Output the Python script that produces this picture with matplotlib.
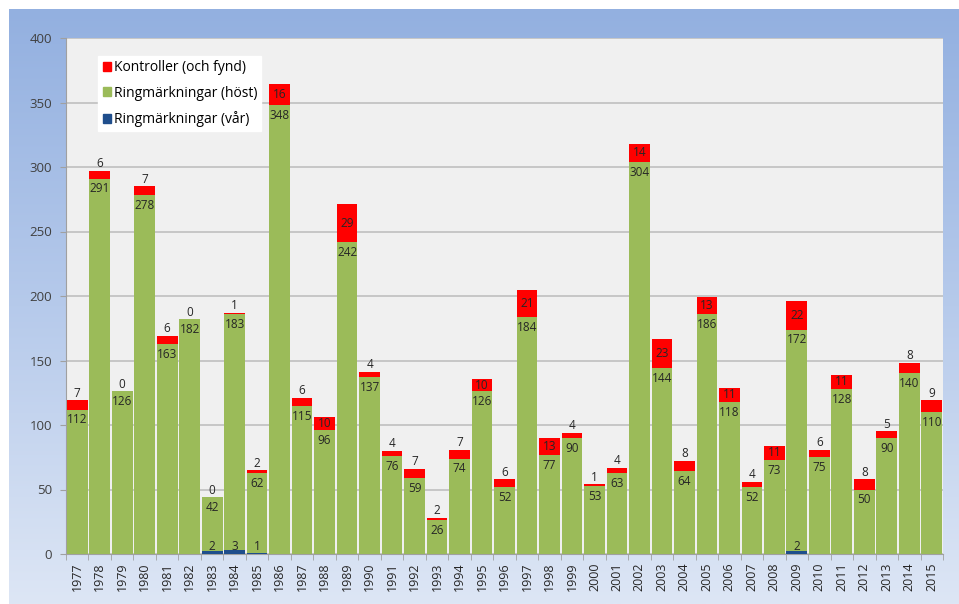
import numpy as np
import matplotlib
matplotlib.use("Agg")
import matplotlib.pyplot as plt
from matplotlib.patches import Patch
from matplotlib.colors import LinearSegmentedColormap

plt.rcParams['font.family'] = ['Open Sans', 'DejaVu Sans']

years = list(range(1977, 2016))
spring = [0, 0, 0, 0, 0, 0, 2, 3, 1, 0,
          0, 0, 0, 0, 0, 0, 0, 0, 0, 0,
          0, 0, 0, 0, 0, 0, 0, 0, 0, 0,
          0, 0, 2, 0, 0, 0, 0, 0, 0]
autumn = [112, 291, 126, 278, 163, 182, 42, 183, 62, 348,
          115, 96, 242, 137, 76, 59, 26, 74, 126, 52,
          184, 77, 90, 53, 63, 304, 144, 64, 186, 118,
          52, 73, 172, 75, 128, 50, 90, 140, 110]
controls = [7, 6, 0, 7, 6, 0, 0, 1, 2, 16,
            6, 10, 29, 4, 4, 7, 2, 7, 10, 6,
            21, 13, 4, 1, 4, 14, 23, 8, 13, 11,
            4, 11, 22, 6, 11, 8, 5, 8, 9]

c_red = '#FF0000'
c_green = '#9BBB59'
c_blue = '#1F4E8C'

fig = plt.figure(figsize=(9.59, 6.04), dpi=100)
fig.patch.set_facecolor('white')

# blue gradient panel behind the chart
bg = fig.add_axes([9 / 959, 0, 1 - 9 / 959, 1 - 9 / 604])
grad = np.linspace(0, 1, 256).reshape(-1, 1)
cmap = LinearSegmentedColormap.from_list('bg', ['#93B0E0', '#B6CAEB', '#DDE6F5'])
bg.imshow(grad, aspect='auto', cmap=cmap, extent=[0, 1, 0, 1], origin='upper')
bg.set_axis_off()

ax = fig.add_axes([66 / 959, 50 / 604, (943 - 66) / 959, (554 - 38) / 604])
ax.set_facecolor('#F0F0F0')

x = np.arange(len(years))
spring = np.array(spring)
autumn = np.array(autumn)
controls = np.array(controls)
w = 0.92

ax.bar(x, spring, w, color=c_blue, edgecolor='none', zorder=3)
ax.bar(x, autumn, w, bottom=spring, color=c_green, edgecolor='none', zorder=3)
ax.bar(x, controls, w, bottom=spring + autumn, color=c_red, edgecolor='none', zorder=3)

lab_kw = dict(ha='center', fontsize=8.5, color='#262626', zorder=5)
for i in range(len(years)):
    top_a = spring[i] + autumn[i]
    ax.text(x[i], top_a - 3, str(autumn[i]), va='top', **lab_kw)
    if controls[i] >= 10:
        ax.text(x[i], top_a + controls[i] / 2, str(controls[i]), va='center', **lab_kw)
    else:
        ax.text(x[i], top_a + controls[i] + 0.5, str(controls[i]), va='bottom', **lab_kw)
    if spring[i] > 0:
        ax.text(x[i], 6, str(spring[i]), va='center', **lab_kw)

ax.set_xlim(-0.5, len(years) - 0.5)
ax.set_ylim(0, 400)
ax.set_yticks(range(0, 401, 50))
ax.yaxis.grid(True, color='#BFBFBF', linewidth=1.2, zorder=0)
ax.set_axisbelow(True)
ax.tick_params(axis='y', length=4, color='#A0A0A0', labelsize=9.5, labelcolor='#404040', pad=6)

ax.set_xticks(x)
ax.set_xticklabels([str(y) for y in years], rotation=90, fontsize=9, color='#262626')
ax.set_xticks(np.arange(-0.5, len(years), 1), minor=True)
ax.tick_params(axis='x', which='major', length=0, pad=6)
ax.tick_params(axis='x', which='minor', length=4, color='#A0A0A0')

for s in ['top', 'right']:
    ax.spines[s].set_visible(False)
ax.spines['left'].set_color('#A0A0A0')
ax.spines['bottom'].set_color('#A0A0A0')

handles = [Patch(color=c_red, label='Kontroller (och fynd)'),
           Patch(color=c_green, label='Ringmärkningar (höst)'),
           Patch(color=c_blue, label='Ringmärkningar (vår)')]
leg = ax.legend(handles=handles, loc='upper left', bbox_to_anchor=(0.037, 0.965),
                fontsize=10, frameon=True, fancybox=False, framealpha=1,
                edgecolor='white', facecolor='white', handlelength=0.6,
                handleheight=0.6, handletextpad=0.2, labelspacing=0.75,
                borderpad=0.3, borderaxespad=0)
leg.set_zorder(10)

fig.savefig('out.png', dpi=100)
